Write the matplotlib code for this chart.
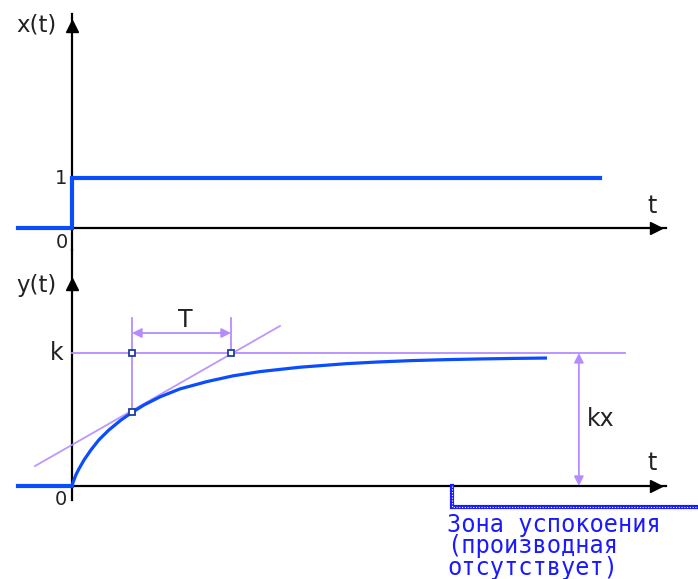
import numpy as np
import matplotlib
matplotlib.use("Agg")
import matplotlib.pyplot as plt

# time in units of T, response in units of k
step_t = [-0.55, 0.0, 0.0, 5.33]
step_x = [0.0, 0.0, 1.0, 1.0]

pre_t = [-0.55, 0.0]
pre_y = [0.0, 0.0]

curve_t = [0.0, 0.012, 0.040, 0.071, 0.121, 0.192, 0.273, 0.374, 0.495,
           0.616, 0.727, 0.889, 1.091, 1.364, 1.626, 1.899, 2.303, 2.778,
           3.111, 3.444, 3.788, 4.121, 4.455, 4.798]
curve_y = [0.0, 0.030, 0.085, 0.130, 0.195, 0.272, 0.348, 0.422, 0.496,
           0.558, 0.609, 0.670, 0.730, 0.785, 0.828, 0.860, 0.893, 0.920,
           0.933, 0.943, 0.950, 0.955, 0.959, 0.962]

tangent_t = [-0.374, 2.101]
tangent_y = [0.150, 1.203]

k_level = 1.0
k_line_end = 5.59
t_touch, y_touch = 0.606, 0.560
t_cross = 1.606
kx_at = 5.12
zone_start = 3.84
zone_text = "Зона успокоения\n(производная\nотсутствует)"

BLUE = "#0a4dff"
PURPLE = "#b48cff"
MARK = "#1f3f9f"

W, H = 698, 579
fig = plt.figure(figsize=(W / 100, H / 100), dpi=100)
xlim = (-72 / 99, 626 / 99)

ax1 = fig.add_axes([0, 1 - 250 / H, 1, 250 / H])
ax1.set_xlim(*xlim)
ax1.set_ylim(-0.44, 4.56)
ax2 = fig.add_axes([0, 0, 1, 329 / H])
ax2.set_xlim(*xlim)
ax2.set_ylim(-0.699, 1.774)
for ax in (ax1, ax2):
    ax.axis("off")

font = dict(family="DejaVu Sans", color="#222222")

# ---- top panel: input step
ax1.plot([0, 0], [-0.44, 4.28], color="black", lw=1.6, clip_on=False)
ax1.plot([0, 6.0], [0, 0], color="black", lw=1.6, clip_on=False)
ax1.plot(5.9, 0, marker=">", ms=8, color="black", clip_on=False)
ax1.plot(0, 4.05, marker="^", ms=8, color="black", clip_on=False)
ax1.plot(step_t, step_x, color=BLUE, lw=3, solid_joinstyle="miter", clip_on=False)

ax1.text(-0.36, 4.06, "x(t)", ha="center", va="center", fontsize=16.5, **font)
ax1.text(-0.05, 1.0, "1", ha="right", va="center", fontsize=14, **font)
ax1.text(-0.1, -0.28, "0", ha="center", va="center", fontsize=14, **font)
ax1.text(5.86, 0.45, "t", ha="center", va="center", fontsize=17, **font)

# ---- bottom panel: response
ax2.plot([0, 0], [-0.105, 1.774], color="black", lw=1.6, clip_on=False)
ax2.plot([0, 6.0], [0, 0], color="black", lw=1.6, clip_on=False)
ax2.plot(5.9, 0, marker=">", ms=8, color="black", clip_on=False)
ax2.plot(0, 1.52, marker="^", ms=8, color="black", clip_on=False)

ax2.plot([0, k_line_end], [k_level, k_level], color=PURPLE, lw=1.3)
ax2.plot(tangent_t, tangent_y, color=PURPLE, lw=1.3, alpha=0.9)
ax2.plot([t_touch, t_touch], [y_touch, 1.263], color=PURPLE, lw=1.3)
ax2.plot([t_cross, t_cross], [k_level, 1.263], color=PURPLE, lw=1.3)
ax2.annotate("", xy=(t_touch, 1.15), xytext=(t_cross, 1.15),
             arrowprops=dict(arrowstyle="<|-|>", color=PURPLE, lw=1.3,
                             mutation_scale=14, shrinkA=0, shrinkB=0))
ax2.annotate("", xy=(kx_at, 0), xytext=(kx_at, k_level),
             arrowprops=dict(arrowstyle="<|-|>", color=PURPLE, lw=1.3,
                             mutation_scale=14, shrinkA=0, shrinkB=0))

ax2.plot(pre_t, pre_y, color=BLUE, lw=3, clip_on=False)
ax2.plot(curve_t, curve_y, color=BLUE, lw=2.3, solid_joinstyle="round",
         solid_capstyle="butt")

ax2.plot([t_touch, t_cross, t_touch], [k_level, k_level, y_touch], ls="none",
         marker="s", ms=5, mfc="white", mec=MARK, mew=1.3)

ax2.text(-0.36, 1.51, "y(t)", ha="center", va="center", fontsize=16.5, **font)
ax2.text(-0.09, k_level, "k", ha="right", va="center", fontsize=17, **font)
ax2.text(-0.11, -0.105, "0", ha="center", va="center", fontsize=14, **font)
ax2.text(1.14, 1.25, "T", ha="center", va="center", fontsize=17, **font)
ax2.text(5.2, 0.5, "kx", ha="left", va="center", fontsize=17, **font)
ax2.text(5.86, 0.17, "t", ha="center", va="center", fontsize=17, **font)

# zone of rest
zx = [zone_start, zone_start, 6.4]
zy = [0, -0.158, -0.158]
ax2.plot(zx, zy, color="#1a1aff", lw=3, clip_on=False, solid_joinstyle="miter")
ax2.plot(zx, zy, color="white", lw=0.8, ls=(0, (1, 1.5)), clip_on=False)
ax2.text(zone_start - 0.05, -0.205, zone_text, ha="left", va="top",
         fontsize=17, family="DejaVu Sans Mono", color="#1a1aff",
         linespacing=0.85)

fig.savefig("out.png", dpi=100)
